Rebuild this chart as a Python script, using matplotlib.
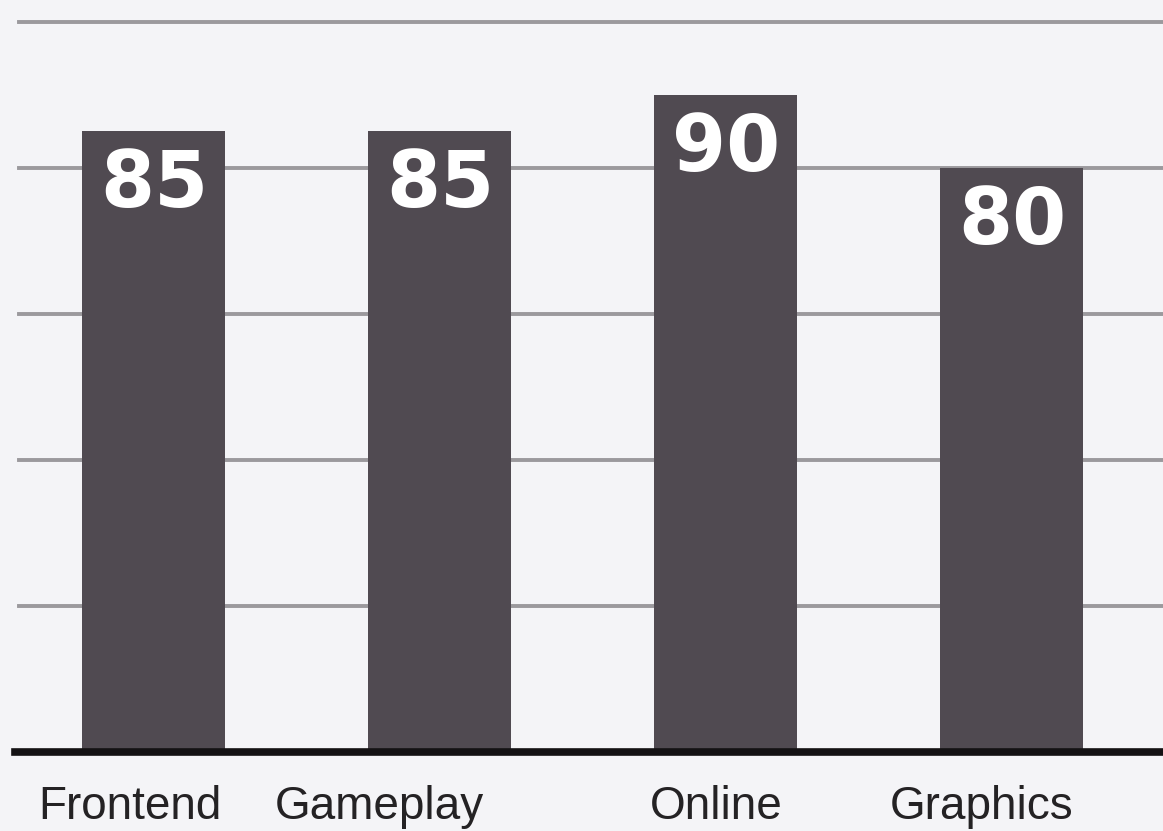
import matplotlib
matplotlib.use("Agg")
import matplotlib.pyplot as plt

teams = ["Frontend", "Gameplay", "Online", "Graphics"]
scores = [85, 85, 90, 80]
grid_levels = [20, 40, 60, 80, 100]

# category names are set a little left of the bar centres
label_shift = [-0.084, -0.21, -0.035, -0.108]

bar_color = "#504a51"
rule_color = "#9b999d"
paper = "#f4f4f7"

fig = plt.figure(figsize=(11.63, 8.31), dpi=100, facecolor=paper)
ax = fig.add_axes([0, 79 / 831, 1, 752 / 831])
ax.set_facecolor(paper)

xpos = list(range(len(teams)))
ax.bar(xpos, scores, width=0.5, color=bar_color, zorder=3)

# grey rules across the plot, behind the bars
for g in grid_levels:
    ax.axhline(g, xmin=0.016, xmax=1, color=rule_color, lw=2.8, zorder=1)

# thick baseline
ax.axhline(0, xmin=0.013, xmax=1, color="#141214", lw=5.5, zorder=4, clip_on=False)

for x, v in zip(xpos, scores):
    ax.text(x, v - 2.2, str(v), ha="center", va="top", color="white",
            fontsize=56, fontweight="heavy", family="DejaVu Sans", zorder=5)

for x, dx, name in zip(xpos, label_shift, teams):
    ax.text(x + dx, -9.2, name, ha="center", va="baseline", color="#242224",
            fontsize=33, family="Liberation Sans", clip_on=False)

ax.set_xlim(-0.538, 3.528)
ax.set_ylim(0, 103)
ax.set_xticks([])
ax.set_yticks([])
for s in ax.spines.values():
    s.set_visible(False)

fig.savefig("out.png", dpi=100, facecolor=paper)
